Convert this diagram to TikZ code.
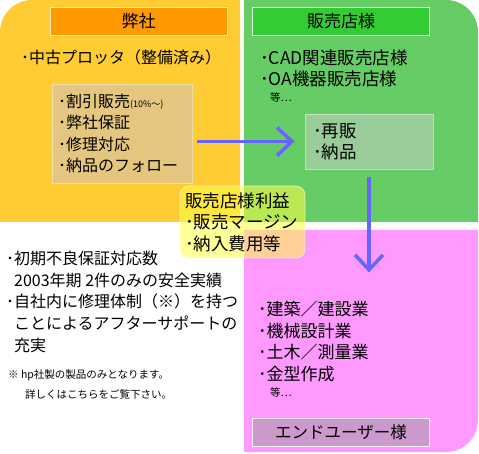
\documentclass[tikz,border=0pt]{standalone}
\usepackage{fontspec}
\setmainfont{Noto Sans CJK JP}
\usetikzlibrary{arrows.meta}
\definecolor{orq}{HTML}{FFCC33}
\definecolor{grq}{HTML}{66CC66}
\definecolor{pkq}{HTML}{FF99FF}
\definecolor{orT}{HTML}{FF9900}
\definecolor{grT}{HTML}{33CC33}
\definecolor{pkT}{HTML}{CC99CC}
\definecolor{orB}{HTML}{E5C67F}
\definecolor{grB}{HTML}{99CC99}
\definecolor{arrc}{HTML}{6666FF}
\definecolor{yel}{HTML}{FFFF44}
\newcommand{\bul}{･}
\tikzset{
  every node/.style={inner sep=0pt, text=black},
  txt/.style={font={\fontsize{16}{21.6}\selectfont}, align=left},
  txtb/.style={font={\fontsize{17.5}{21.5}\selectfont}, align=left},
  txtp/.style={font={\fontsize{17}{21.6}\selectfont}, align=left},
  small/.style={font={\fontsize{10.5}{19}\selectfont}, align=left},
  titlebox/.style={minimum width=177pt, minimum height=28pt, line width=0.8pt, font={\fontsize{17}{18}\selectfont}},
  innerbox/.style={line width=0.8pt, align=left, inner xsep=6pt},
  arr/.style={draw=arrc, line width=3.5pt, -{Straight Barb[length=15pt,width=28pt]}}
}
\begin{document}
\begin{tikzpicture}[x=1pt,y=-1pt]
\useasboundingbox (0,0) rectangle (479,454);
% quadrants
\fill[orq] (0,222) -- (0,32) arc[start angle=180,end angle=270,radius=32] -- (240,0) -- (240,222) -- cycle;
\fill[grq] (244,0) -- (446,0) arc[start angle=270,end angle=360,radius=32] -- (478,222) -- (244,222) -- cycle;
\fill[pkq] (244,230) -- (478,230) -- (478,420) arc[start angle=0,end angle=90,radius=32] -- (244,452) -- cycle;
% titles
\node[titlebox, fill=orT, draw=orq!40!white] (t1) at (138.5,21) {弊社};
\node[titlebox, fill=grT, draw=white!85!grT] (t2) at (341,21) {販売店様};
\node[titlebox, fill=pkT, draw=white!85!pkT, font={\fontsize{16.5}{18}\selectfont}] (t3) at (341,432.5) {エンドユーザー様};
% orange texts
\node[txt, anchor=west] (o1) at (21,57) {\bul 中古プロッタ（整備済み）};
\node[innerbox, txt, fill=orB, draw=orB!60!white, minimum width=140pt, minimum height=99pt, text width=128pt] (obox) at (122,133.5)
  {\bul 割引販売{\fontsize{9}{10}\selectfont(10\%～)}\\\bul 弊社保証\\\bul 修理対応\\\bul 納品のフォロー};
% green texts
\node[txtb, anchor=west] (g1) at (260,58) {\bul CAD関連販売店様};
\node[txtb, anchor=west] (g2) at (260,79) {\bul OA機器販売店様};
\node[small, anchor=west] (g3) at (270,97) {等…};
\node[innerbox, txtb, fill=grB, draw=grB!60!white, minimum width=128pt, minimum height=55pt, text width=112pt, inner xsep=8pt] (gbox) at (369,141.5)
  {\bul 再販\\\bul 納品};
% bottom-left texts
\node[txt, anchor=west] (l1) at (6,258) {\bul 初期不良保証対応数};
\node[txt, anchor=west] (l2) at (6,280) {\phantom{\bul}2003年期 2件のみの安全実績};
\node[txt, anchor=west] (l3) at (6,301.5) {\bul 自社内に修理体制（※）を持つ};
\node[txt, anchor=west] (l4) at (6,323) {\phantom{\bul}ことによるアフターサポートの};
\node[txt, anchor=west] (l5) at (6,345) {\phantom{\bul}充実};
\node[small, anchor=west] (n1) at (8,375) {※ hp社製の製品のみとなります。};
\node[small, anchor=west] (n2) at (25,394) {詳しくはこちらをご覧下さい。};
% pink texts
\node[txtp, anchor=west] (p1) at (258,309) {\bul 建築／建設業};
\node[txtp, anchor=west] (p2) at (258,331) {\bul 機械設計業};
\node[txtp, anchor=west] (p3) at (258,352) {\bul 土木／測量業};
\node[txtp, anchor=west] (p4) at (258,374) {\bul 金型作成};
\node[small, anchor=west] (p5) at (270,392) {等…};
% center overlay
\node[fill=yel, fill opacity=0.55, draw=white, draw opacity=0.6, line width=0.8pt, rounded corners=9pt, minimum width=125pt, minimum height=72pt, txtb, text opacity=1, text width=115pt, inner xsep=5pt] (cbox) at (242.5,222)
  {販売店様利益\\\bul 販売マージン\\\bul 納入費用等};
% arrows
\coordinate (hend) at ([xshift=-10pt]gbox.west);
\coordinate (vend) at ([yshift=-103pt]gbox.south);
\draw[arr] ([xshift=5pt]obox.east |- gbox.west) -- (hend);
\draw[arr] ([yshift=-8pt]gbox.south) -- (vend);
\end{tikzpicture}
\end{document}
